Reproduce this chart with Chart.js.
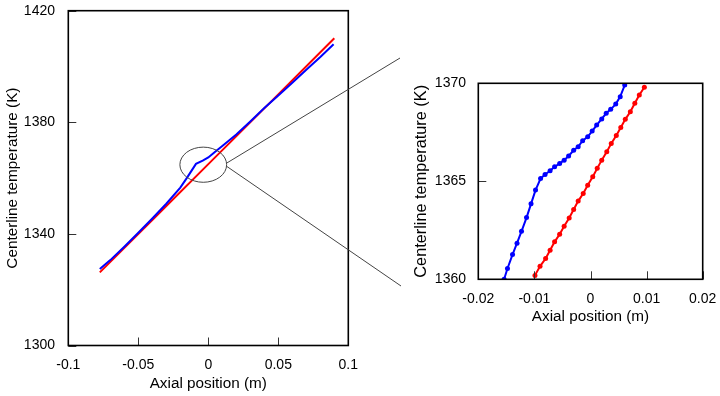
<!DOCTYPE html>
<html>
<head>
<meta charset="utf-8">
<script src="https://cdn.jsdelivr.net/npm/chart.js@4.4.1/dist/chart.umd.min.js"></script>
<style>
  html, body { margin: 0; padding: 0; background: #fff; }
  #wrap { position: relative; width: 720px; height: 396px; overflow: hidden; }
  #fullBox { position: absolute; left: 0; top: 0; width: 405px; height: 396px; }
  #zoomBox { position: absolute; left: 405px; top: 0; width: 315px; height: 396px; }
</style>
</head>
<body>
<div id="wrap">
  <div id="fullBox"><canvas id="fullChart"></canvas></div>
  <div id="zoomBox"><canvas id="zoomChart"></canvas></div>
</div>
<script>
// ---- data ----
// full view (left panel)
const fullBlueX = [-0.0775, -0.07, -0.06, -0.05, -0.04, -0.03, -0.02, -0.0154, -0.0088, -0.004, 0, 0.006, 0.01, 0.02, 0.03, 0.04, 0.05, 0.06, 0.07, 0.08, 0.0895];
const fullBlueT = [1327.4, 1330.6, 1335.4, 1340.4, 1345.5, 1350.8, 1356.6, 1360.0, 1365.1, 1366.3, 1367.4, 1369.9, 1371.5, 1375.6, 1380.3, 1385.1, 1389.6, 1394.2, 1398.8, 1403.4, 1408.0];
const fullRedX = [-0.0775, -0.04, 0, 0.04, 0.09];
const fullRedT = [1326.2, 1345.0, 1365.0, 1385.0, 1410.1];

// zoomed view (right panel)
const zoomBlueX = [-0.0154, -0.0148, -0.0139, -0.0131, -0.0123, -0.0114, -0.0106, -0.0098, -0.0089, -0.0081, -0.0072, -0.0064, -0.0055, -0.0047, -0.0039, -0.0030, -0.0022, -0.0014, -0.0005, 0.0003, 0.0011, 0.0020, 0.0028, 0.0036, 0.0045, 0.0053, 0.0061];
const zoomBlueT = [1360.0, 1360.55, 1361.26, 1361.84, 1362.45, 1363.15, 1363.85, 1364.55, 1365.14, 1365.35, 1365.54, 1365.74, 1365.91, 1366.08, 1366.29, 1366.58, 1366.76, 1367.07, 1367.27, 1367.56, 1367.87, 1368.18, 1368.47, 1368.67, 1368.94, 1369.32, 1369.91];
const zoomRedX = [-0.0099, -0.0090, -0.0080, -0.0072, -0.0064, -0.0055, -0.0047, -0.0038, -0.0030, -0.0022, -0.0013, -0.0005, 0.0004, 0.0012, 0.0020, 0.0029, 0.0037, 0.0046, 0.0054, 0.0062, 0.0071, 0.0079, 0.0087, 0.0096];
const zoomRedT = [1360.2, 1360.66, 1361.06, 1361.48, 1361.91, 1362.30, 1362.71, 1363.13, 1363.56, 1363.99, 1364.38, 1364.80, 1365.23, 1365.66, 1366.08, 1366.51, 1366.93, 1367.34, 1367.75, 1368.16, 1368.55, 1368.98, 1369.40, 1369.80];

// tick labels
const fullXTicks = [-0.1, -0.05, 0, 0.05, 0.1];
const fullYTicks = [1300, 1340, 1380, 1420];
const zoomXTicks = [-0.02, -0.01, 0, 0.01, 0.02];
const zoomYTicks = [1360, 1365, 1370];

// zoom window marked on the full view (centre and half sizes, data units)
const zoomCentre = [-0.0036, 1364.8];
const zoomHalf = [0.0167, 6.3];

const xTitle = 'Axial position (m)';
const yTitle = 'Centerline temperature (K)';

const BLUE = '#0000ff';
const RED = '#ff0000';
const FONT = "'Liberation Sans', Arial, Helvetica, sans-serif";

const toPoints = (xs, ys) => xs.map((x, i) => ({ x: x, y: ys[i] }));

/**
 * Box around the plot area plus short inward tick marks
 */
const frameAndTicks = {
  id: 'frameAndTicks',
  afterDraw(chart, args, opts) {
    const { ctx, chartArea: a, scales } = chart;
    const len = opts.tickLength || 8;
    ctx.save();
    ctx.strokeStyle = '#333';
    ctx.lineWidth = 1;
    scales.x.ticks.forEach(t => {
      const px = Math.round(scales.x.getPixelForValue(t.value)) + 0.5;
      ctx.beginPath();
      ctx.moveTo(px, a.bottom);
      ctx.lineTo(px, a.bottom - len);
      ctx.stroke();
    });
    scales.y.ticks.forEach(t => {
      const py = Math.round(scales.y.getPixelForValue(t.value)) + 0.5;
      ctx.beginPath();
      ctx.moveTo(a.left, py);
      ctx.lineTo(a.left + len, py);
      ctx.stroke();
    });
    ctx.strokeStyle = '#000';
    ctx.lineWidth = 1.6;
    ctx.strokeRect(a.left, a.top, a.right - a.left, a.bottom - a.top);
    ctx.restore();
  }
};

/**
 * Ellipse around the zoomed region with two leader lines
 */
const zoomMarker = {
  id: 'zoomMarker',
  afterDraw(chart, args, opts) {
    if (!opts.centre) return;
    const { ctx, scales } = chart;
    const cx = scales.x.getPixelForValue(opts.centre[0]);
    const cy = scales.y.getPixelForValue(opts.centre[1]);
    const rx = Math.abs(scales.x.getPixelForValue(opts.centre[0] + opts.half[0]) - cx);
    const ry = Math.abs(scales.y.getPixelForValue(opts.centre[1] + opts.half[1]) - cy);
    ctx.save();
    ctx.strokeStyle = '#444';
    ctx.lineWidth = 1;
    ctx.beginPath();
    ctx.ellipse(cx, cy, rx, ry, 0, 0, Math.PI * 2);
    ctx.stroke();
    // leader lines start on the right side of the ellipse
    opts.leaders.forEach(l => {
      const ang = l.angle * Math.PI / 180;
      ctx.beginPath();
      ctx.moveTo(cx + rx * Math.cos(ang), cy + ry * Math.sin(ang));
      ctx.lineTo(l.to[0], l.to[1]);
      ctx.stroke();
    });
    ctx.restore();
  }
};

function makeScales(o) {
  const tickFont = { family: FONT, size: 14 };
  return {
    x: {
      type: 'linear',
      min: o.xTicks[0],
      max: o.xTicks[o.xTicks.length - 1],
      afterBuildTicks: s => { s.ticks = o.xTicks.map(v => ({ value: v })); },
      // fixed band height, and no extra room for the end labels
      afterFit: s => { s.height = o.xHeight; s.paddingLeft = 0; s.paddingRight = 0; },
      grid: { display: false, drawTicks: false },
      border: { display: false },
      ticks: { color: '#000', font: tickFont, padding: o.xPad, maxRotation: 0, autoSkip: false,
               callback: v => String(v) },
      title: { display: true, text: xTitle, color: '#000', font: { family: FONT, size: o.xTitleSize },
               padding: { top: 0, bottom: o.xTitlePad } }
    },
    y: {
      type: 'linear',
      min: o.yTicks[0],
      max: o.yTicks[o.yTicks.length - 1],
      afterBuildTicks: s => { s.ticks = o.yTicks.map(v => ({ value: v })); },
      afterFit: s => { s.width = o.yWidth; s.paddingTop = 0; s.paddingBottom = 0; },
      grid: { display: false, drawTicks: false },
      border: { display: false },
      ticks: { color: '#000', font: tickFont, padding: o.yPad, autoSkip: false,
               callback: v => String(v) },
      title: { display: true, text: yTitle, color: '#000', font: { family: FONT, size: o.yTitleSize },
               padding: { top: o.yTitlePad, bottom: 0 } }
    }
  };
}

const baseOptions = {
  responsive: true,
  maintainAspectRatio: false,
  animation: false,
  events: []
};

// ---- left panel: full axial range ----
new Chart(document.getElementById('fullChart'), {
  type: 'scatter',
  data: {
    datasets: [
      { label: 'blue', data: toPoints(fullBlueX, fullBlueT), showLine: true,
        borderColor: BLUE, backgroundColor: BLUE, borderWidth: 2, pointRadius: 0 },
      { label: 'red', data: toPoints(fullRedX, fullRedT), showLine: true,
        borderColor: RED, backgroundColor: RED, borderWidth: 2, pointRadius: 0 }
    ]
  },
  options: Object.assign({}, baseOptions, {
    layout: { padding: { top: 10.7, right: 56.7, left: 0, bottom: 0 } },
    plugins: {
      legend: { display: false },
      tooltip: { enabled: false },
      frameAndTicks: { tickLength: 8 },
      zoomMarker: {
        centre: zoomCentre,
        half: zoomHalf,
        leaders: [ { angle: -5, to: [400, 58] }, { angle: 5, to: [401, 286] } ]
      }
    },
    scales: makeScales({ xTicks: fullXTicks, yTicks: fullYTicks, xHeight: 50.5, yWidth: 68.3,
                         xPad: 11.5, xTitlePad: 3.5, xTitleSize: 15.3,
                         yPad: 13.3, yTitlePad: 3.8, yTitleSize: 15.3 })
  }),
  plugins: [frameAndTicks, zoomMarker]
});

// ---- right panel: zoom around the transition ----
new Chart(document.getElementById('zoomChart'), {
  type: 'scatter',
  data: {
    datasets: [
      { label: 'blue', data: toPoints(zoomBlueX, zoomBlueT), showLine: true,
        borderColor: BLUE, backgroundColor: BLUE, borderWidth: 2, pointRadius: 2.5,
        pointBorderWidth: 0, clip: 0 },
      { label: 'red', data: toPoints(zoomRedX, zoomRedT), showLine: true,
        borderColor: RED, backgroundColor: RED, borderWidth: 2, pointRadius: 2.5,
        pointBorderWidth: 0, clip: 0 }
    ]
  },
  options: Object.assign({}, baseOptions, {
    layout: { padding: { top: 83.3, right: 17.3, left: 0, bottom: 0 } },
    plugins: {
      legend: { display: false },
      tooltip: { enabled: false },
      frameAndTicks: { tickLength: 8 }
    },
    scales: makeScales({ xTicks: zoomXTicks, yTicks: zoomYTicks, xHeight: 116.7, yWidth: 73.3,
                         xPad: 11.5, xTitlePad: 70.1, xTitleSize: 15.3,
                         yPad: 12.3, yTitlePad: 6.9, yTitleSize: 16.3 })
  }),
  plugins: [frameAndTicks]
});
</script>
</body>
</html>
